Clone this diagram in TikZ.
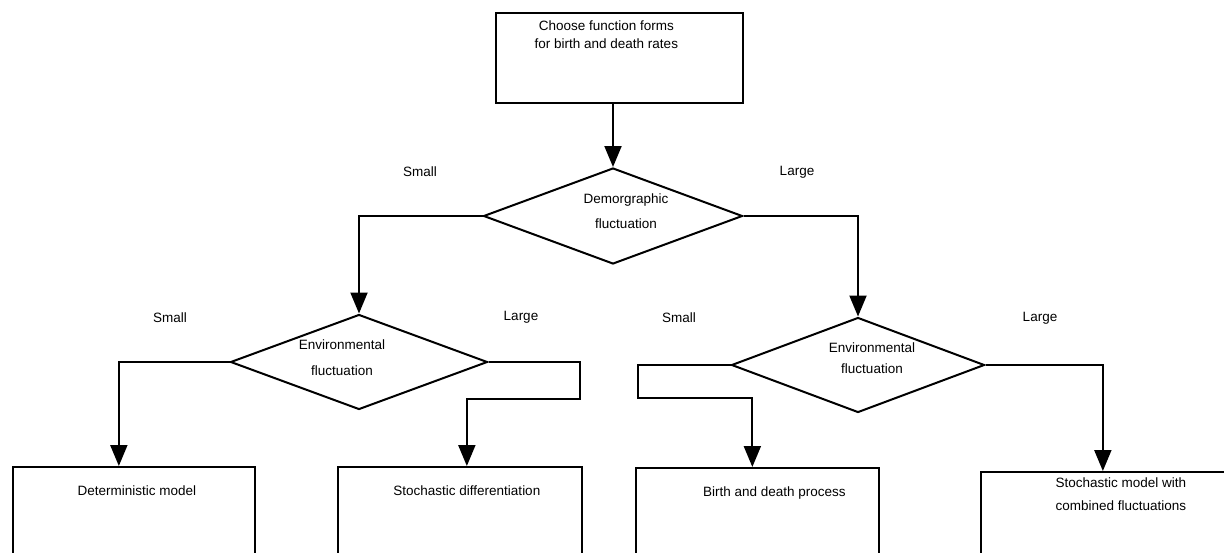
\documentclass[tikz,border=0pt]{standalone}
\usepackage{fontspec}
\setmainfont{Liberation Sans}
\usetikzlibrary{shapes, arrows.meta, calc, positioning}

\begin{document}
\begin{tikzpicture}[x=1pt, y=-1pt, >={Triangle[width=17pt, length=21pt]}, line width=2pt]
	\tikzstyle{decision} = [draw, diamond, inner sep=0pt, minimum width=257pt, minimum height=95pt]
	\tikzstyle{stepbox} = [draw, rectangle, anchor=north west, line width=1.7pt, minimum height=120pt]
	\tikzstyle{txt} = [font=\fontsize{13.5}{18}\selectfont, inner sep=0pt, align=center]

	\useasboundingbox (0,0) rectangle (1224,552);
	\clip (0,0) rectangle (1224,552);

	% top box and first decision
	\node[stepbox, minimum width=247pt, minimum height=90pt,
		label={[txt, anchor=north, xshift=-13pt, yshift=-8pt]north:{Choose function forms\\for birth and death rates}}]
		(choose) at (495,12) {};
	\node[decision, minimum width=259pt, minimum height=96pt,
		label={[txt, xshift=13pt, yshift=5pt]center:{Demorgraphic\\[7pt]fluctuation}}]
		(demo) at (613,216) {};

	% second row of decisions
	\node[decision, label={[txt, xshift=-17pt, yshift=4pt]center:{Environmental\\[8pt]fluctuation}}]
		(envL) at (359,362) {};
	\node[decision, minimum width=253pt,
		label={[txt, xshift=14pt, yshift=7pt]center:{Environmental\\[3pt]fluctuation}}]
		(envR) at (858,365) {};

	% models
	\node[stepbox, minimum width=242pt,
		label={[txt, anchor=north, xshift=3pt, yshift=-19pt]north:Deterministic model}]
		(model1) at (12,466) {};
	\node[stepbox, minimum width=244pt,
		label={[txt, anchor=north, xshift=7pt, yshift=-19pt]north:Stochastic differentiation}]
		(model2) at (337,466) {};
	\node[stepbox, minimum width=243pt,
		label={[txt, anchor=north, xshift=17pt, yshift=-19pt]north:Birth and death process}]
		(model3) at (635,467) {};
	\node[stepbox, minimum width=244pt,
		label={[txt, anchor=north, xshift=18pt, yshift=-6pt]north:{Stochastic model with\\[5pt]combined fluctuations}}]
		(model4) at (980,471) {};

	% branch labels
	\node[txt] (demoSmall) at (420,172) {Small};
	\node[txt] (demoLarge) at (797,172) {Large};
	\node[txt] (envLSmall) at (170,318) {Small};
	\node[txt] (envLLarge) at (521,317) {Large};
	\node[txt] (envRSmall) at (679,318) {Small};
	\node[txt] (envRLarge) at (1040,318) {Large};

	\draw[->] (choose.south -| demo.north) -- (demo.north);
	\draw[->] (demo.west) -| (envL.north);
	\draw[->] (demo.east) -| (envR.north);
	\draw[->] (envL.west) -| ([xshift=-15pt]model1.north);
	\draw[->] (envL.east) -- ++(91,0) -- ++(0,37) -| ([xshift=7pt]model2.north);
	\draw[->] (envR.west) -- ++(-93,0) -- ++(0,33) -| ([xshift=-5pt]model3.north);
	\draw[->] (envR.east) -| (model4.north);
\end{tikzpicture}
\end{document}
